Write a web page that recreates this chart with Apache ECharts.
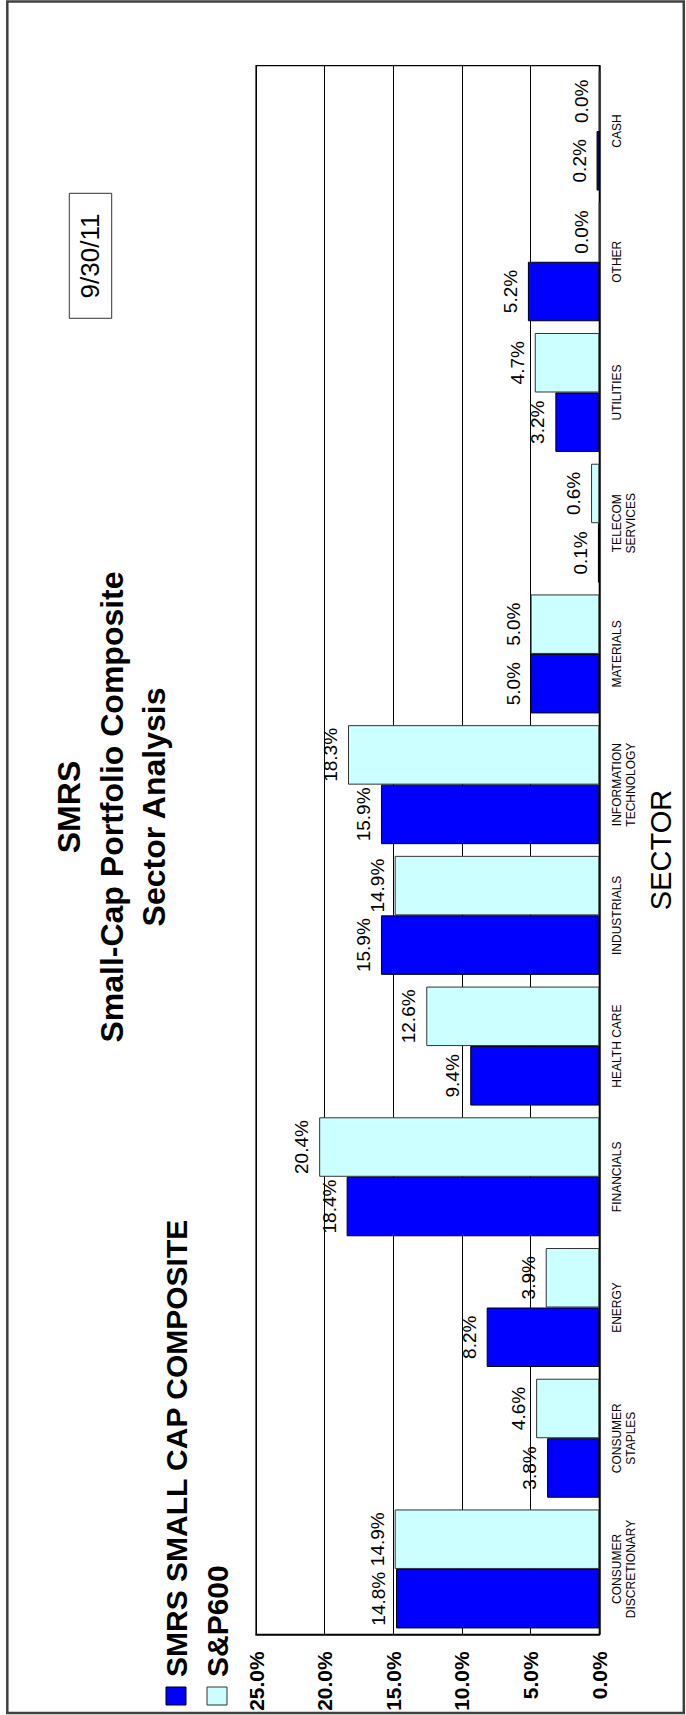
<!DOCTYPE html>
<html>
<head>
<meta charset="utf-8">
<script src="https://cdn.jsdelivr.net/npm/echarts@6/dist/echarts.min.js"></script>
<style>
  html, body { margin: 0; padding: 0; background: #ffffff; }
  #chart { width: 686px; height: 1715px; }
</style>
</head>
<body>
<div id="chart"></div>
<script>
// ---- data ----
var categories = ['CONSUMER\nDISCRETIONARY', 'CONSUMER\nSTAPLES', 'ENERGY', 'FINANCIALS', 'HEALTH CARE',
  'INDUSTRIALS', 'INFORMATION\nTECHNOLOGY', 'MATERIALS', 'TELECOM\nSERVICES', 'UTILITIES', 'OTHER', 'CASH'];
var smrsValues = [14.8, 3.8, 8.2, 18.4, 9.4, 15.9, 15.9, 5.0, 0.1, 3.2, 5.2, 0.2];
var sp600Values = [14.9, 4.6, 3.9, 20.4, 12.6, 14.9, 18.3, 5.0, 0.6, 4.7, 0.0, 0.0];
var seriesNames = ['SMRS SMALL CAP COMPOSITE', 'S&P600'];
var titleLines = ['SMRS', 'Small-Cap Portfolio Composite', 'Sector Analysis'];
var dateText = '9/30/11';
var axisName = 'SECTOR';
var valueMin = 0, valueMax = 25, valueStep = 5;

var FONT = '"Liberation Sans", Arial, Helvetica, sans-serif';
var BLUE = '#0000ff', CYAN = '#ccffff';
var R90 = Math.PI / 2;

var chart = echarts.init(document.getElementById('chart'), null, { renderer: 'svg' });

function pct(v) { return Number(v).toFixed(1) + '%'; }

var barLabel = {
  show: true,
  position: 'left',
  distance: 8,
  rotate: 90,
  align: 'center',
  verticalAlign: 'bottom',
  fontFamily: FONT,
  fontSize: 19,
  color: '#000',
  formatter: function (p) { return pct(p.value); }
};

var option = {
  backgroundColor: '#ffffff',
  animation: false,
  grid: {
    left: 256, right: 86.7, top: 65.7, bottom: 80.7,
    show: true, borderColor: '#000', borderWidth: 1.2, backgroundColor: 'transparent'
  },
  xAxis: {
    type: 'value',
    inverse: true,
    position: 'bottom',
    min: valueMin, max: valueMax, interval: valueStep,
    axisLine: { show: true, lineStyle: { color: '#000', width: 1.5 } },
    axisTick: { show: false },
    splitLine: { show: true, lineStyle: { color: '#000', width: 1 } },
    axisLabel: {
      rotate: 90, margin: 17,
      fontFamily: FONT, fontSize: 21, fontWeight: 'bold', color: '#000',
      formatter: function (v) { return pct(v); }
    }
  },
  yAxis: {
    type: 'category',
    position: 'right',
    data: categories,
    name: axisName,
    nameLocation: 'middle',
    nameGap: 47,
    nameTextStyle: { fontFamily: FONT, fontSize: 29, color: '#000' },
    axisLine: { show: true, lineStyle: { color: '#000', width: 1.5 } },
    axisTick: { show: false },
    splitLine: { show: false },
    axisLabel: {
      rotate: 90, margin: 10.5, interval: 0,
      fontFamily: FONT, fontSize: 12, lineHeight: 14, color: '#000'
    }
  },
  series: [
    {
      name: seriesNames[1], type: 'bar', data: sp600Values,
      barWidth: 59.5, barGap: '0%',
      itemStyle: { color: CYAN, borderColor: '#333', borderWidth: 1 },
      label: barLabel
    },
    {
      name: seriesNames[0], type: 'bar', data: smrsValues,
      barWidth: 59.5, barGap: '0%',
      itemStyle: { color: BLUE, borderColor: '#000', borderWidth: 1 },
      label: barLabel
    }
  ],
  graphic: [
    { type: 'rect', silent: true, z: 0,
      shape: { x: 7.3, y: 1.5, width: 676.5, height: 1711.5 },
      style: { fill: 'none', stroke: '#404040', lineWidth: 2.5 } },
    { type: 'text', silent: true, x: 111.5, y: 807, rotation: R90,
      style: { text: titleLines.join('\n'), font: 'bold 32px ' + FONT, fontSize: 32, fontWeight: 'bold', fontFamily: FONT,
        align: 'center', verticalAlign: 'middle', textAlign: 'center', textVerticalAlign: 'middle',
        lineHeight: 42.5, fill: '#000' } },
    { type: 'rect', silent: true,
      shape: { x: 69.3, y: 193.3, width: 42.4, height: 125 },
      style: { fill: '#fff', stroke: '#333', lineWidth: 1 } },
    { type: 'text', silent: true, x: 89.5, y: 256, rotation: R90,
      style: { text: dateText, font: '26px ' + FONT, fontSize: 26, fontFamily: FONT,
        align: 'center', verticalAlign: 'middle', textAlign: 'center', textVerticalAlign: 'middle', fill: '#000' } },
    { type: 'rect', silent: true,
      shape: { x: 166, y: 1687, width: 20, height: 18 },
      style: { fill: BLUE, stroke: '#000', lineWidth: 1 } },
    { type: 'rect', silent: true,
      shape: { x: 207, y: 1687, width: 20, height: 18 },
      style: { fill: CYAN, stroke: '#333', lineWidth: 1 } },
    { type: 'text', silent: true, x: 176, y: 1677, rotation: R90,
      style: { text: seriesNames[0], font: 'bold 30px ' + FONT, fontSize: 30, fontWeight: 'bold', fontFamily: FONT,
        align: 'left', verticalAlign: 'middle', textAlign: 'left', textVerticalAlign: 'middle', fill: '#000' } },
    { type: 'text', silent: true, x: 217, y: 1677, rotation: R90,
      style: { text: seriesNames[1], font: 'bold 30px ' + FONT, fontSize: 30, fontWeight: 'bold', fontFamily: FONT,
        align: 'left', verticalAlign: 'middle', textAlign: 'left', textVerticalAlign: 'middle', fill: '#000' } }
  ]
};
chart.setOption(option);
</script>
</body>
</html>
